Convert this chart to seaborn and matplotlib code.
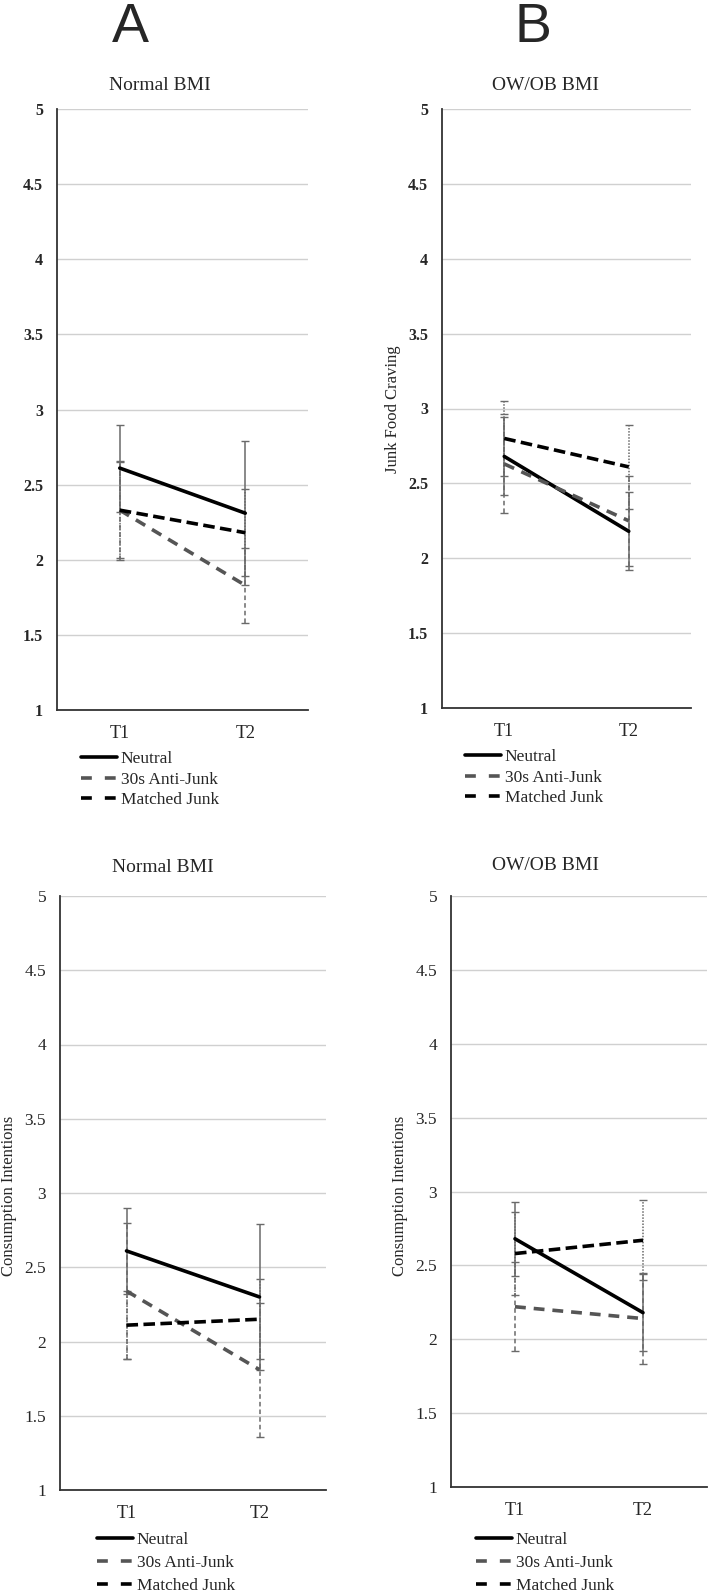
import pandas as pd
import matplotlib
matplotlib.use("Agg")
import matplotlib.pyplot as plt
from matplotlib.lines import Line2D
import seaborn as sns

# dados
times = ["T1", "T2"]
conditions = ["Neutral", "30s Anti-Junk", "Matched Junk"]

craving_normal_mean = {"Neutral": [2.61, 2.31], "30s Anti-Junk": [2.33, 1.83], "Matched Junk": [2.33, 2.18]}
craving_normal_err = {"Neutral": [0.29, 0.48], "30s Anti-Junk": [0.33, 0.25], "Matched Junk": [0.32, 0.29]}
craving_ow_mean = {"Neutral": [2.68, 2.18], "30s Anti-Junk": [2.63, 2.25], "Matched Junk": [2.80, 2.61]}
craving_ow_err = {"Neutral": [0.26, 0.26], "30s Anti-Junk": [0.33, 0.30], "Matched Junk": [0.25, 0.28]}
intent_normal_mean = {"Neutral": [2.61, 2.30], "30s Anti-Junk": [2.34, 1.81], "Matched Junk": [2.11, 2.15]}
intent_normal_err = {"Neutral": [0.29, 0.49], "30s Anti-Junk": [0.46, 0.45], "Matched Junk": [0.23, 0.27]}
intent_ow_mean = {"Neutral": [2.68, 2.18], "30s Anti-Junk": [2.22, 2.14], "Matched Junk": [2.58, 2.67]}
intent_ow_err = {"Neutral": [0.25, 0.26], "30s Anti-Junk": [0.30, 0.31], "Matched Junk": [0.28, 0.27]}

yticks = [1, 1.5, 2, 2.5, 3, 3.5, 4, 4.5, 5]
ytick_labels = ["1", "1.5", "2", "2.5", "3", "3.5", "4", "4.5", "5"]

sns.set_theme(style="white")
plt.rcParams['font.family'] = ['Liberation Serif', 'DejaVu Serif']

W, H = 709, 1593
fig = plt.figure(figsize=(W / 100, H / 100), dpi=100)

palette = {"Neutral": "black", "30s Anti-Junk": "#555555", "Matched Junk": "black"}
dashes = {"Neutral": "", "30s Anti-Junk": (3, 2.2), "Matched Junk": (3.2, 1.5)}
err_styles = {"Neutral": "-", "30s Anti-Junk": (0, (3, 2)), "Matched Junk": (0, (1, 1))}

# legenda: traços mais longos, como no original
legend_handles = [
    Line2D([], [], color="black", linewidth=2.6),
    Line2D([], [], color="#555555", linewidth=2.6, dashes=(3, 3.6)),
    Line2D([], [], color="black", linewidth=2.6, dashes=(3, 3.6)),
]


def px_axes(left, right, top, bottom):
    return fig.add_axes([left / W, 1 - bottom / H, (right - left) / W, (bottom - top) / H])


def draw_panel(ax, means, errs, bold, legend_x, legend_y, spacing):
    rows = []
    for c in conditions:
        for t, m in zip(times, means[c]):
            rows.append({"time": t, "value": m, "condition": c})
    df = pd.DataFrame(rows)

    for c in conditions:
        eb = ax.errorbar(times, means[c], yerr=errs[c], fmt="none", ecolor="#6a6a6a",
                         elinewidth=1.1, capsize=3, capthick=1, zorder=2)
        eb[2][0].set_linestyle(err_styles[c])

    sns.lineplot(data=df, x="time", y="value", hue="condition", style="condition",
                 palette=palette, dashes=dashes, hue_order=conditions, style_order=conditions,
                 linewidth=2.6, legend=False, ax=ax, zorder=3)

    ax.set_xlim(-0.5, 1.5)
    ax.set_ylim(1, 5)
    ax.set_yticks(yticks)
    if bold:
        ax.set_yticklabels(ytick_labels, fontsize=11.5, fontweight="bold")
    else:
        ax.set_yticklabels(ytick_labels, fontsize=12.5)
    ax.tick_params(axis="y", length=0, pad=10)
    ax.tick_params(axis="x", length=0, pad=11, labelsize=13)
    ax.set_xlabel("")
    ax.set_ylabel("")
    ax.grid(axis="y", color="#d0d0d0", linewidth=1)
    ax.grid(axis="x", visible=False)
    for s in ["top", "right"]:
        ax.spines[s].set_visible(False)
    for s in ["left", "bottom"]:
        ax.spines[s].set_color("#333333")
        ax.spines[s].set_linewidth(1.3)

    ax.legend(legend_handles, conditions, loc="upper left",
              bbox_to_anchor=(legend_x / W, 1 - legend_y / H), bbox_transform=fig.transFigure,
              frameon=False, fontsize=12.5, handlelength=2.1, handletextpad=0.2,
              labelspacing=spacing, borderpad=0, borderaxespad=0)


ax1 = px_axes(57, 308, 109, 710)
draw_panel(ax1, craving_normal_mean, craving_normal_err, True, 81, 751, 0.25)
ax2 = px_axes(442, 691, 109, 708)
draw_panel(ax2, craving_ow_mean, craving_ow_err, True, 465, 749, 0.25)
ax3 = px_axes(60, 326, 896, 1490)
draw_panel(ax3, intent_normal_mean, intent_normal_err, False, 97, 1532, 0.4)
ax4 = px_axes(451, 707, 896, 1487)
draw_panel(ax4, intent_ow_mean, intent_ow_err, False, 476, 1532, 0.4)

# títulos e rótulos
fig.text(160 / W, 1 - 85 / H, "Normal BMI", ha="center", va="center", fontsize=14)
fig.text(546 / W, 1 - 85 / H, "OW/OB BMI", ha="center", va="center", fontsize=14)
fig.text(163 / W, 1 - 868 / H, "Normal BMI", ha="center", va="center", fontsize=14)
fig.text(545 / W, 1 - 866 / H, "OW/OB BMI", ha="center", va="center", fontsize=14)

fig.text(393 / W, 1 - 409 / H, "Junk Food Craving", rotation=90, ha="center", va="center", fontsize=12)
fig.text(9 / W, 1 - 1196 / H, "Consumption Intentions", rotation=90, ha="center", va="center", fontsize=12)
fig.text(400 / W, 1 - 1196 / H, "Consumption Intentions", rotation=90, ha="center", va="center", fontsize=12)

fig.text(130 / W, 1 - 42 / H, "A", ha="center", va="baseline", fontsize=40, family="Liberation Sans")
fig.text(533 / W, 1 - 42 / H, "B", ha="center", va="baseline", fontsize=40, family="Liberation Sans")

fig.savefig("out.png", dpi=100, facecolor="white")
